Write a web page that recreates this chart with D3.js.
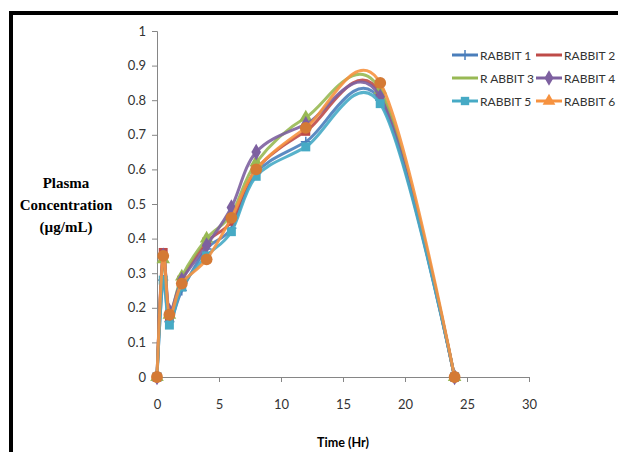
<!DOCTYPE html>
<html>
<head>
<meta charset="utf-8">
<script src="https://cdn.jsdelivr.net/npm/d3@7"></script>
<style>
  body { margin: 0; background: #fff; }
  svg { display: block; }
</style>
</head>
<body>
<div id="vis"></div>
<script>
const width = 618;
const height = 452;

// time points (hours)
const times = [0, 0.5, 1, 2, 4, 6, 8, 12, 18, 24];

// plasma concentration per rabbit (µg/mL)
const rabbit1 = [0, 0.28, 0.16, 0.25, 0.37, 0.43, 0.59, 0.68, 0.80, 0];
const rabbit2 = [0, 0.36, 0.17, 0.28, 0.39, 0.45, 0.60, 0.71, 0.82, 0];
const rabbit3 = [0, 0.34, 0.18, 0.29, 0.40, 0.47, 0.62, 0.75, 0.83, 0];
const rabbit4 = [0, 0.35, 0.19, 0.28, 0.38, 0.49, 0.65, 0.73, 0.81, 0];
const rabbit5 = [0, 0.28, 0.15, 0.26, 0.35, 0.42, 0.58, 0.665, 0.79, 0];
const rabbit6 = [0, 0.35, 0.18, 0.27, 0.34, 0.46, 0.60, 0.72, 0.85, 0];

const seriesNames = ["RABBIT 1", "RABBIT 2", "R ABBIT 3", "RABBIT 4", "RABBIT 5", "RABBIT 6"];
const xTicks = [0, 5, 10, 15, 20, 25, 30];
const yTicks = [0, 0.1, 0.2, 0.3, 0.4, 0.5, 0.6, 0.7, 0.8, 0.9, 1];

const colors = ["#4a7ebb", "#be4b48", "#98b954", "#7d60a0", "#46aac5", "#f69240"];
const markerColors = ["#4a7ebb", "#be4b48", "#98b954", "#7d60a0", "#46aac5", "#d47a35"];
const markers = ["plus", "square", "triangle", "diamond", "square", "circle"];
const legendMarkers = ["plus", null, null, "diamond", "square", "triangle"];

const series = [rabbit1, rabbit2, rabbit3, rabbit4, rabbit5, rabbit6].map((vals, i) => ({
  name: seriesNames[i],
  values: vals.map((v, j) => ({ t: times[j], c: v }))
}));

const svg = d3.select("#vis").append("svg").attr("width", width).attr("height", height);

// outer frame
svg.append("rect").attr("x", 11).attr("y", 13).attr("width", 700).attr("height", 500)
  .attr("fill", "#fff").attr("stroke", "#000").attr("stroke-width", 4);

const x = d3.scaleLinear().domain([0, 30]).range([157, 529]);
const y = d3.scaleLinear().domain([0, 1]).range([377, 31]);

const tickFont = "Lato, 'Open Sans', sans-serif";

// y axis
const yAxis = svg.append("g").attr("transform", "translate(157,0)")
  .call(d3.axisLeft(y).tickValues(yTicks).tickSize(5).tickPadding(6).tickFormat(d => d3.format("")(+d.toFixed(1))));
yAxis.select(".domain").attr("stroke", "#868686");
yAxis.selectAll(".tick line").attr("stroke", "#868686");
yAxis.selectAll("text").attr("font-family", tickFont).attr("font-size", 13).attr("fill", "#333");

// x axis
const xAxis = svg.append("g").attr("transform", "translate(0,377)")
  .call(d3.axisBottom(x).tickValues(xTicks).tickSize(5).tickPadding(18));
xAxis.select(".domain").attr("stroke", "#868686");
xAxis.selectAll(".tick line").attr("stroke", "#868686");
xAxis.selectAll("text").attr("font-family", tickFont).attr("font-size", 13).attr("fill", "#333");

// smoothed lines
const line = d3.line()
  .x(d => x(d.t))
  .y(d => y(d.c))
  .curve(d3.curveCardinal.tension(0));

const symbolFor = {
  plus: null,
  square: d3.symbolSquare,
  triangle: d3.symbolTriangle,
  diamond: d3.symbolDiamond,
  circle: d3.symbolCircle
};

function drawMarker(g, kind, cx, cy, color, size) {
  if (!kind) return;
  if (kind === "plus") {
    g.append("line").attr("x1", cx).attr("x2", cx).attr("y1", cy - 5).attr("y2", cy + 5)
      .attr("stroke", color).attr("stroke-width", 1.5);
    g.append("line").attr("x1", cx - 5).attr("x2", cx + 5).attr("y1", cy).attr("y2", cy)
      .attr("stroke", color).attr("stroke-width", 1.5);
    return;
  }
  g.append("path")
    .attr("d", d3.symbol().type(symbolFor[kind]).size(size)())
    .attr("transform", `translate(${cx},${cy})`)
    .attr("fill", color);
}

series.forEach((s, i) => {
  const g = svg.append("g");
  g.append("path")
    .datum(s.values)
    .attr("d", line)
    .attr("fill", "none")
    .attr("stroke", colors[i])
    .attr("stroke-width", 3)
    .attr("stroke-opacity", 0.9);
  s.values.forEach(d => {
    drawMarker(g, markers[i], x(d.t), y(d.c), markerColors[i], i === 5 ? 110 : 80);
  });
});

// legend
const legendFont = "Lato, sans-serif";
const legendTexts = [];
series.forEach((s, i) => {
  const col = i % 2, row = Math.floor(i / 2);
  const lx = col === 0 ? 452 : 536;
  const ly = 55 + row * 23;
  const g = svg.append("g");
  g.append("line").attr("x1", lx).attr("x2", lx + 26).attr("y1", ly).attr("y2", ly)
    .attr("stroke", colors[i]).attr("stroke-width", 3);
  drawMarker(g, legendMarkers[i], lx + 13, ly, colors[i], 70);
  const txt = g.append("text").attr("x", lx + 28).attr("y", ly + 5)
    .attr("font-family", legendFont).attr("fill", "#333")
    .text(s.name);
  legendTexts.push({ txt, room: col === 0 ? 54 : width - (lx + 28) - 2 });
});
// one font size for all labels, shrunk until every label fits its column
let fs = 13.5;
const fits = () => legendTexts.every(l => l.txt.node().getComputedTextLength() <= l.room);
legendTexts.forEach(l => l.txt.attr("font-size", fs));
while (!fits() && fs > 8) {
  fs -= 0.25;
  legendTexts.forEach(l => l.txt.attr("font-size", fs));
}

// axis titles
const yTitle = svg.append("text")
  .attr("font-family", "'Liberation Serif', 'DejaVu Serif', serif")
  .attr("font-weight", "bold").attr("font-size", 15).attr("fill", "#000")
  .attr("text-anchor", "middle");
["Plasma", "Concentration", "(µg/mL)"].forEach((t, i) => {
  yTitle.append("tspan").attr("x", 66).attr("y", 188 + i * 22).text(t);
});

svg.append("text")
  .attr("x", 343).attr("y", 447)
  .attr("text-anchor", "middle")
  .attr("font-family", "Lato, sans-serif")
  .attr("font-weight", "bold").attr("font-size", 13).attr("fill", "#000")
  .attr("textLength", 52).attr("lengthAdjust", "spacingAndGlyphs")
  .text("Time (Hr)");
</script>
</body>
</html>
